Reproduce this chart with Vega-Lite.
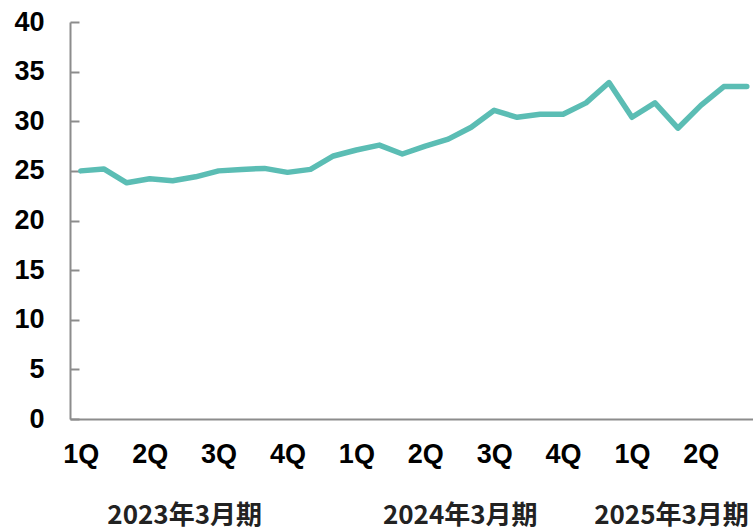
{
  "$schema": "https://vega.github.io/schema/vega-lite/v6.json",
  "width": 683,
  "height": 397,
  "autosize": {"type": "none"},
  "padding": {"left": 70, "top": 22, "right": 0, "bottom": 112},
  "background": "white",
  "config": {"view": {"stroke": null}, "axis": {"grid": false}},
  "data": {
    "values": [
      {"idx": 0, "value": 25.0},
      {"idx": 1, "value": 25.2},
      {"idx": 2, "value": 23.8},
      {"idx": 3, "value": 24.2},
      {"idx": 4, "value": 24.0},
      {"idx": 5, "value": 24.4},
      {"idx": 6, "value": 25.0},
      {"idx": 7, "value": 25.15},
      {"idx": 8, "value": 25.25},
      {"idx": 9, "value": 24.85},
      {"idx": 10, "value": 25.15},
      {"idx": 11, "value": 26.5},
      {"idx": 12, "value": 27.1},
      {"idx": 13, "value": 27.6},
      {"idx": 14, "value": 26.7},
      {"idx": 15, "value": 27.5},
      {"idx": 16, "value": 28.2},
      {"idx": 17, "value": 29.4},
      {"idx": 18, "value": 31.1},
      {"idx": 19, "value": 30.4},
      {"idx": 20, "value": 30.7},
      {"idx": 21, "value": 30.7},
      {"idx": 22, "value": 31.85},
      {"idx": 23, "value": 33.9},
      {"idx": 24, "value": 30.4},
      {"idx": 25, "value": 31.85},
      {"idx": 26, "value": 29.3},
      {"idx": 27, "value": 31.6},
      {"idx": 28, "value": 33.5},
      {"idx": 29, "value": 33.5}
    ]
  },
  "layer": [
    {
      "mark": {"type": "line", "color": "#5bbdb4", "strokeWidth": 5.5, "strokeCap": "round", "strokeJoin": "round"},
      "encoding": {
        "x": {
          "field": "idx", "type": "quantitative",
          "scale": {"domain": [-0.47, 29.27], "nice": false, "zero": false},
          "axis": {
            "title": null,
            "values": [0, 3, 6, 9, 12, 15, 18, 21, 24, 27],
            "labelExpr": "['1Q','2Q','3Q','4Q'][round(datum.value / 3) % 4]",
            "ticks": false,
            "domainColor": "#8c8c8c",
            "domainWidth": 2,
            "labelFont": "Liberation Sans",
            "labelFontWeight": "bold",
            "labelFontSize": 27,
            "labelColor": "#000000",
            "labelPadding": 22,
            "labelFlush": false,
            "labelOverlap": false
          }
        },
        "y": {
          "field": "value", "type": "quantitative",
          "scale": {"domain": [0, 40], "nice": false},
          "axis": {
            "title": null,
            "values": [0, 5, 10, 15, 20, 25, 30, 35, 40],
            "ticks": true,
            "tickSize": -9,
            "tickColor": "#8c8c8c",
            "tickWidth": 2,
            "domainColor": "#8c8c8c",
            "domainWidth": 2,
            "labelFont": "Liberation Sans",
            "labelFontWeight": "bold",
            "labelFontSize": 27,
            "labelColor": "#000000",
            "labelPadding": 35,
            "labelFlush": false,
            "labelOverlap": false
          }
        }
      }
    },
    {
      "mark": {"type": "point", "opacity": 0},
      "encoding": {
        "x": {
          "field": "idx", "type": "quantitative",
          "scale": {"domain": [-0.47, 29.27], "nice": false, "zero": false},
          "axis": {
            "orient": "bottom",
            "title": null,
            "values": [4.5, 16.5, 25.7],
            "labelExpr": "datum.value < 10 ? '2023年3月期' : datum.value < 20 ? '2024年3月期' : '2025年3月期'",
            "domain": false,
            "ticks": false,
            "labelFont": "Noto Sans CJK JP",
            "labelFontWeight": "bold",
            "labelFontSize": 26,
            "labelColor": "#222222",
            "labelPadding": 83,
            "labelFlush": false,
            "labelOverlap": false
          }
        },
        "y": {"field": "value", "type": "quantitative"}
      }
    }
  ],
  "resolve": {"scale": {"x": "independent"}}
}
